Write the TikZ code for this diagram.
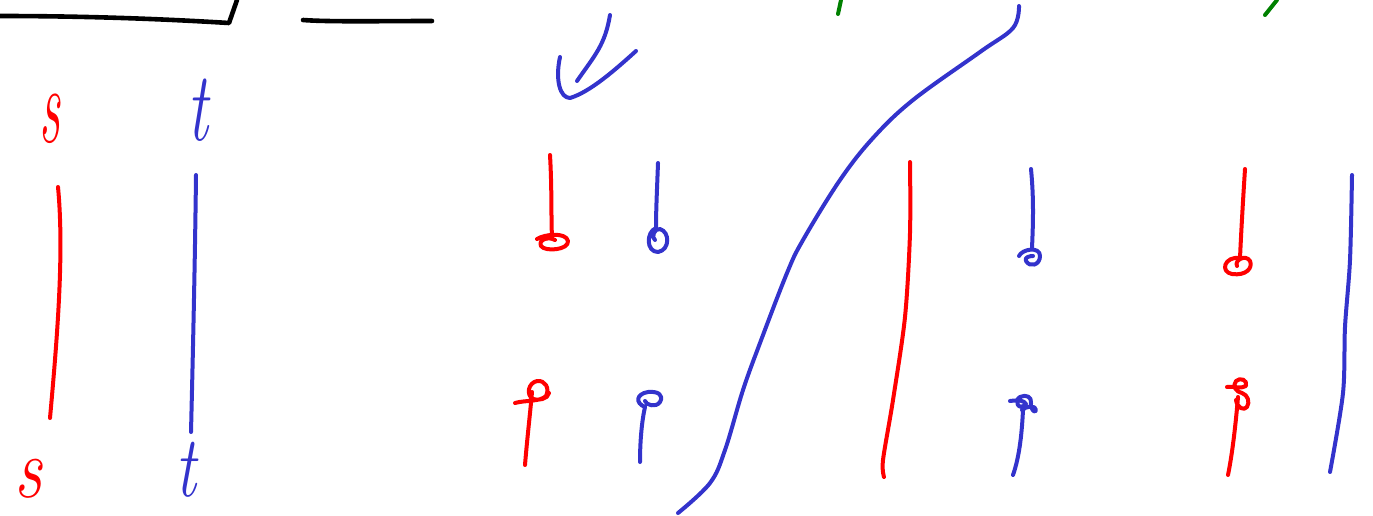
\documentclass[tikz,border=0pt]{standalone}
\begin{document}
\begin{tikzpicture}[x=1pt,y=-1pt,line cap=round,line join=round,
  pen/.style={line width=4pt},
  blk/.style={pen,draw=black,line width=4.6pt},
  rd/.style={pen,draw=penred},
  bl/.style={pen,draw=penblue},
  gr/.style={pen,draw=pengreen},
  letter/.style={inner sep=0pt,font=\fontsize{58}{58}\selectfont\itshape}]
\definecolor{penred}{RGB}{255,0,0}
\definecolor{penblue}{RGB}{51,51,204}
\definecolor{pengreen}{RGB}{0,128,0}
\useasboundingbox (0,0) rectangle (1373,515);
% black strokes
\draw[blk] (0,16) .. controls (100,16) and (180,20) .. (229,23) -- (237,0);
\draw[blk] (303,20) .. controls (330,22) and (380,21) .. (432,21);
% letters
\node[letter,text=penred] (s1) at (50,119) {\scalebox{0.9}[1.9]{s}};
\node[letter,text=penblue] (t1) at (198,110) {\scalebox{1.1}[1.7]{t}};
\node[letter,text=penred] (s2) at (28,479) {\scalebox{1.2}[1.5]{s}};
\node[letter,text=penblue] (t2) at (186,470) {\scalebox{1.1}[1.5]{t}};
% left verticals
\draw[rd] (58,187) .. controls (64,250) and (58,330) .. (50,418);
\draw[bl] (196,175) .. controls (195,260) and (193,350) .. (191,432);
% check arrow
\draw[bl] (610,15) .. controls (605,45) and (595,55) .. (577,81);
\draw[bl] (560,57) .. controls (555,80) and (560,98) .. (570,98) .. controls (590,92) and (615,70) .. (636,51);
% green
\draw[gr] (841,0) -- (838,14);
\draw[gr] (1277,0) -- (1265,15);
% big S curve
\draw[bl] plot[smooth,tension=0.6] coordinates {(1019,6) (1013,28) (980,52) (913,100) (873,138) (840,180) (803,240) (787,273) (760,343) (743,390) (725,450) (710,483) (678,513)};
% red long line
\draw[rd] plot[smooth] coordinates {(910,162) (910,233) (905,317) (893,400) (883,460) (884,477)};
% blue long right
\draw[bl] plot[smooth] coordinates {(1352,175) (1350,260) (1345,327) (1343,393) (1330,472)};
% top pins
\draw[rd] (550,155) .. controls (552,190) and (551,215) .. (552,238);
\draw[rd] (537,239) .. controls (545,234) and (566,232) .. (568,241) .. controls (569,250) and (545,252) .. (541,246) .. controls (538,240) and (548,236) .. (555,240);
\draw[bl] (658,163) .. controls (657,190) and (656,210) .. (656,228);
\draw[bl] (656,228) .. controls (646,232) and (646,252) .. (658,252) .. controls (670,250) and (670,232) .. (660,229) .. controls (654,228) and (651,238) .. (655,240);
\draw[bl] (1031,169) .. controls (1034,200) and (1033,225) .. (1032,248);
\draw[bl] (1019,256) .. controls (1022,249) and (1040,246) .. (1040,256) .. controls (1040,265) and (1030,268) .. (1026,261) .. controls (1024,257) and (1030,256) .. (1033,256);
\draw[rd] (1245,169) .. controls (1243,200) and (1241,235) .. (1240,258);
\draw[rd] (1240,258) .. controls (1224,256) and (1220,272) .. (1232,274) .. controls (1246,276) and (1253,268) .. (1250,261) .. controls (1246,254) and (1234,260) .. (1237,266);
% bottom pins
\draw[rd] (525,465) .. controls (527,440) and (530,415) .. (532,392);
\draw[rd] (515,403) .. controls (525,400) and (540,402) .. (546,396) .. controls (550,388) and (545,380) .. (537,381) .. controls (528,383) and (526,395) .. (533,399) .. controls (538,401) and (548,399) .. (549,393);
\draw[bl] (640,462) .. controls (640,440) and (642,420) .. (645,407);
\draw[bl] (645,407) .. controls (635,403) and (636,394) .. (648,392) .. controls (658,391) and (664,395) .. (660,402) .. controls (656,408) and (646,405) .. (645,401);
\draw[bl] (1013,475) .. controls (1020,455) and (1022,430) .. (1023,410);
\draw[bl] (1010,401) .. controls (1018,400) and (1024,400) .. (1026,404) .. controls (1018,412) and (1014,400) .. (1020,397) .. controls (1026,394) and (1032,397) .. (1031,403) .. controls (1030,410) and (1036,414) .. (1036,410) .. controls (1036,405) and (1026,406) .. (1022,410);
\draw[rd] (1228,475) .. controls (1233,450) and (1236,420) .. (1238,397);
\draw[rd] (1227,387) .. controls (1232,386) and (1242,389) .. (1246,386) .. controls (1248,380) and (1240,377) .. (1236,381) .. controls (1232,386) and (1236,392) .. (1242,393) .. controls (1248,395) and (1250,402) .. (1247,407) .. controls (1244,411) and (1237,408) .. (1236,400);
\end{tikzpicture}
\end{document}
